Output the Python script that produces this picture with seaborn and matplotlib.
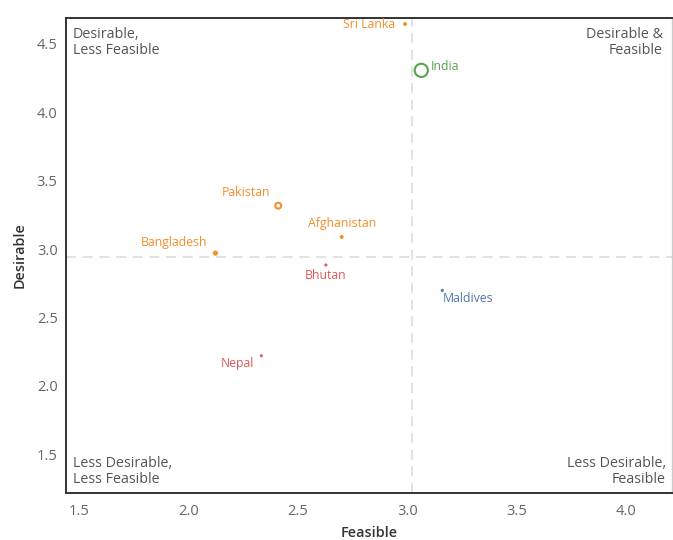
import matplotlib
matplotlib.use("Agg")
import matplotlib.pyplot as plt
import seaborn as sns
import pandas as pd

countries = ["Sri Lanka", "India", "Pakistan", "Afghanistan", "Bangladesh", "Bhutan", "Maldives", "Nepal"]
feasible = [2.99, 3.064, 2.41, 2.70, 2.123, 2.628, 3.16, 2.333]
desirable = [4.646, 4.307, 3.317, 3.088, 2.97, 2.883, 2.697, 2.219]
group = ["orange", "green", "orange", "orange", "orange", "red", "blue", "red"]
ref_feasible = 3.02
ref_desirable = 2.94

palette = {"orange": "#f28e2b", "green": "#59a14f", "red": "#e15759", "blue": "#4e79a7"}
# marker styling (size in pt^2, filled or open)
msize = [8, 90, 18, 8, 14, 5, 5, 5]
mopen = [False, True, True, False, False, False, False, False]
# label offsets in points and alignment
offsets = [(-7, 0, "right", "center"), (7, 3, "left", "center"), (-6, 5, "right", "bottom"),
           (0, 5, "center", "bottom"), (-6, 3, "right", "bottom"), (0, -3, "center", "top"),
           (0, -1, "left", "top"), (-5, -1, "right", "top")]

df = pd.DataFrame({"country": countries, "Feasible": feasible, "Desirable": desirable, "group": group})

sns.set_theme(style="white")
plt.rcParams["font.family"] = ["Open Sans", "DejaVu Sans"]

fig = plt.figure(figsize=(6.73, 5.40), dpi=100)
ax = fig.add_axes([66 / 673, 47 / 540, (672 - 66) / 673, (493 - 18) / 540])

for i, row in df.iterrows():
    c = palette[row["group"]]
    sub = df.iloc[[i]]
    if mopen[i]:
        sns.scatterplot(data=sub, x="Feasible", y="Desirable", ax=ax, s=msize[i],
                        facecolor="none", edgecolor=c, linewidth=1.5, legend=False, zorder=3)
    else:
        sns.scatterplot(data=sub, x="Feasible", y="Desirable", ax=ax, s=msize[i],
                        color=c, edgecolor="none", legend=False, zorder=3)
    dx, dy, ha, va = offsets[i]
    ax.annotate(row["country"], (row["Feasible"], row["Desirable"]), xytext=(dx, dy),
                textcoords="offset points", ha=ha, va=va, color=c, fontsize=8.8)

ax.axvline(ref_feasible, color="#dddddd", lw=1.2, ls=(0, (6, 4)), zorder=1)
ax.axhline(ref_desirable, color="#dddddd", lw=1.2, ls=(0, (6, 4)), zorder=1)

ax.set_xlim(1.44, 4.21)
ax.set_ylim(1.215, 4.69)
ax.set_xticks([1.5, 2.0, 2.5, 3.0, 3.5, 4.0])
ax.set_yticks([1.5, 2.0, 2.5, 3.0, 3.5, 4.0, 4.5])
ax.set_xticklabels(["1.5", "2.0", "2.5", "3.0", "3.5", "4.0"])
ax.set_yticklabels(["1.5", "2.0", "2.5", "3.0", "3.5", "4.0", "4.5"])
ax.tick_params(axis="both", length=0, labelsize=10.5, labelcolor="#666666")
ax.tick_params(axis="x", pad=8)
ax.tick_params(axis="y", pad=6)

ax.set_xlabel("Feasible", fontsize=10.4, color="#333333", fontweight="semibold", labelpad=5)
ax.set_ylabel("Desirable", fontsize=10.4, color="#333333", fontweight="semibold", labelpad=7)

for s in ["top", "left", "bottom"]:
    ax.spines[s].set_color("#333333")
    ax.spines[s].set_linewidth(1.4)
ax.spines["right"].set_color("#cccccc")
ax.spines["right"].set_linewidth(1.0)

qc = "#555555"
ax.text(0.011, 0.982, "Desirable,\nLess Feasible", transform=ax.transAxes, ha="left", va="top",
        fontsize=10.3, color=qc, linespacing=1.15)
ax.text(0.985, 0.982, "Desirable &\nFeasible", transform=ax.transAxes, ha="right", va="top",
        fontsize=10.3, color=qc, linespacing=1.15, multialignment="right")
ax.text(0.011, 0.012, "Less Desirable,\nLess Feasible", transform=ax.transAxes, ha="left", va="bottom",
        fontsize=10.3, color=qc, linespacing=1.15)
ax.text(0.99, 0.012, "Less Desirable,\nFeasible", transform=ax.transAxes, ha="right", va="bottom",
        fontsize=10.3, color=qc, linespacing=1.15, multialignment="right")

fig.savefig("out.png", dpi=100)
